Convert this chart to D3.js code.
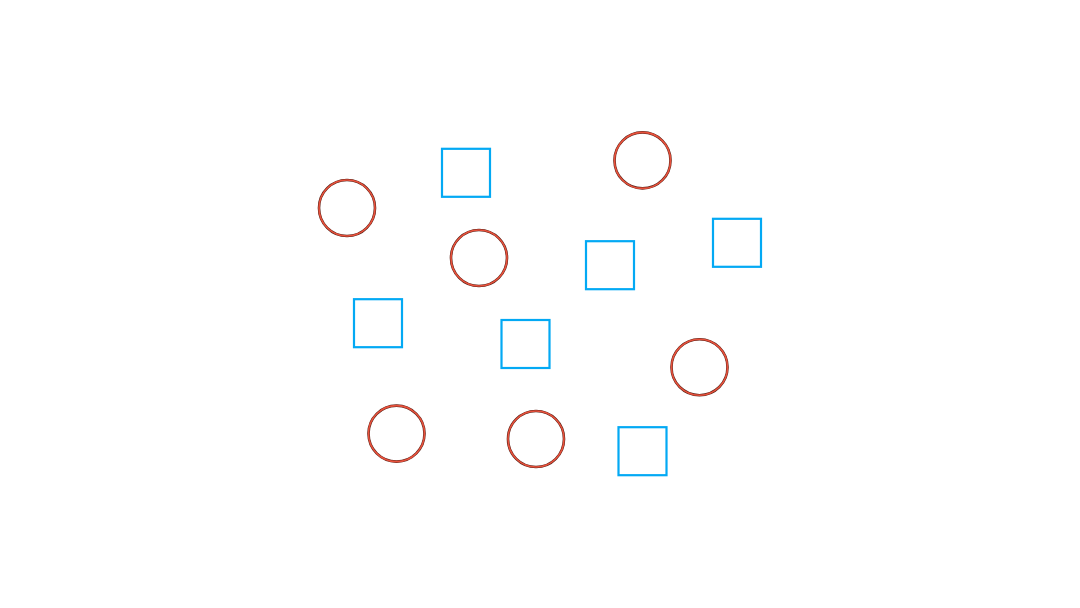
<!DOCTYPE html>
<html>
<head>
<meta charset="utf-8">
<script src="https://cdn.jsdelivr.net/npm/d3@7"></script>
<style>
  html, body { margin: 0; padding: 0; background: #fff; }
</style>
</head>
<body>
<div id="chart"></div>
<script>
// circle markers (x, y in data units 0..100)
const circleX = [9.4, 35.8, 68.5, 79.9, 19.3, 47.2];
const circleY = [73.0, 60.5, 84.9, 33.2, 16.6, 15.25];
// square markers
const squareX = [33.2, 62.0, 87.4, 15.6, 45.1, 68.5];
const squareY = [81.8, 58.7, 64.3, 44.2, 39.0, 12.2];

const largura = 1080;
const altura = 608;

const svg = d3.select("#chart").append("svg")
    .attr("width", largura)
    .attr("height", altura)
    .style("display", "block");

const x = d3.scaleLinear().domain([0, 100]).range([300, 800]);
const y = d3.scaleLinear().domain([0, 100]).range([500, 100]);

const raio = 28;
const lado = 48;

const circulos = circleX.map((v, i) => ({ x: v, y: circleY[i] }));
const quadrados = squareX.map((v, i) => ({ x: v, y: squareY[i] }));

// circulos: contorno escuro por baixo, vermelho por cima
svg.append("g").selectAll("circle")
    .data(circulos)
    .join("circle")
    .attr("cx", d => x(d.x))
    .attr("cy", d => y(d.y))
    .attr("r", raio)
    .attr("fill", "none")
    .attr("stroke", "#5a2218")
    .attr("stroke-width", 2.6);

svg.append("g").selectAll("circle")
    .data(circulos)
    .join("circle")
    .attr("cx", d => x(d.x))
    .attr("cy", d => y(d.y))
    .attr("r", raio)
    .attr("fill", "none")
    .attr("stroke", "#e8513c")
    .attr("stroke-width", 1.6);

// quadrados azuis
svg.append("g").selectAll("rect")
    .data(quadrados)
    .join("rect")
    .attr("x", d => x(d.x) - lado / 2)
    .attr("y", d => y(d.y) - lado / 2)
    .attr("width", lado)
    .attr("height", lado)
    .attr("fill", "none")
    .attr("stroke", "#03a9f4")
    .attr("stroke-width", 2.2);
</script>
</body>
</html>
